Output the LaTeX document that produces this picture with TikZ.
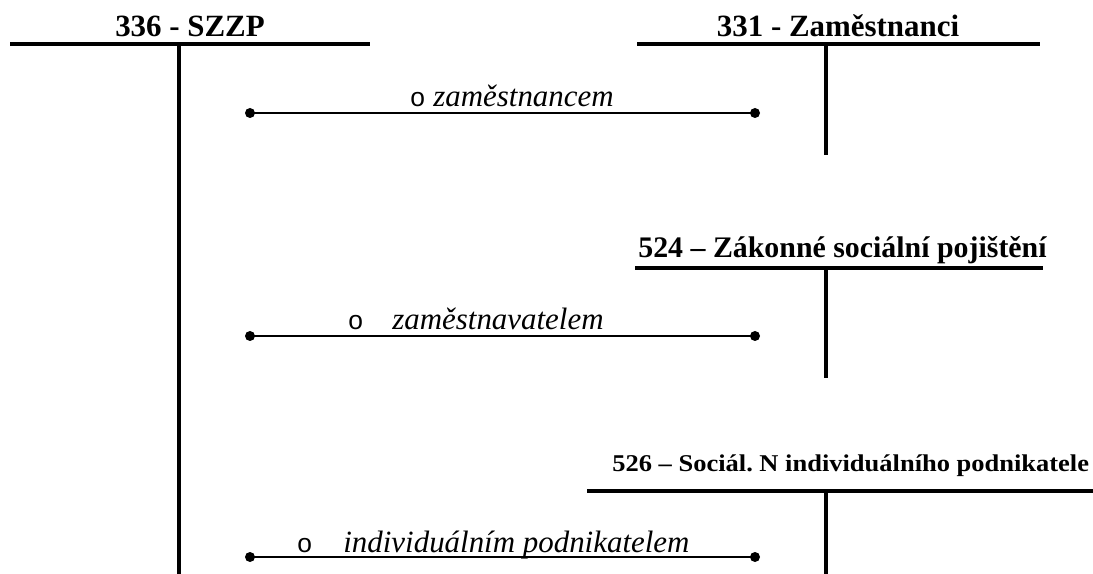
\documentclass[tikz,border=0pt]{standalone}
\usepackage{fontspec}
\setmainfont{Liberation Serif}
\newfontfamily\bulfont{Liberation Sans}

\begin{document}
\begin{tikzpicture}[x=0.02cm,y=-0.02cm,
  acct/.style={line width=2.3pt},
  conn/.style={line width=1.1pt},
  ttl/.style={font=\fontsize{17.6}{20}\selectfont\bfseries,inner sep=0pt},
  lbl/.style={font=\fontsize{17.6}{20}\selectfont\itshape,anchor=base west,inner sep=0pt},
  bul/.style={font=\bulfont\fontsize{15}{18}\selectfont,anchor=base west,inner sep=0pt}]
  \useasboundingbox (0,0) rectangle (1093,574);
  % account 336 - SZZP (left, full height)
  \node[ttl,anchor=base] (szzp) at (190,37) {336 - SZZP};
  \coordinate (szzpL) at (10,44); \coordinate (szzpR) at (370,44);
  \coordinate (szzpT) at (179,44); \coordinate (szzpB) at (179,574);
  \draw[acct] (szzpL) -- (szzpR); \draw[acct] (szzpT) -- (szzpB);
  % account 331 - Zamestnanci
  \node[ttl,anchor=base] (zam) at (838,37) {331 - Zaměstnanci};
  \coordinate (zamL) at (637,44); \coordinate (zamR) at (1040,44);
  \coordinate (zamT) at (826,44); \coordinate (zamB) at (826,155);
  \draw[acct] (zamL) -- (zamR); \draw[acct] (zamT) -- (zamB);
  % account 524
  \node[ttl,anchor=base west,font=\fontsize{17}{20}\selectfont\bfseries] (zsp) at (638,258) {524 – Zákonné sociální pojištění};
  \coordinate (zspL) at (635,268); \coordinate (zspR) at (1043,268);
  \coordinate (zspT) at (826,268); \coordinate (zspB) at (826,378);
  \draw[acct] (zspL) -- (zspR); \draw[acct] (zspT) -- (zspB);
  % account 526
  \node[ttl,anchor=base west,font=\fontsize{13.7}{16}\selectfont\bfseries,xscale=1.1] (snp) at (612,472) {526 – Sociál.\ N individuálního podnikatele};
  \coordinate (snpL) at (587,491); \coordinate (snpR) at (1093,491);
  \coordinate (snpT) at (826,491); \coordinate (snpB) at (826,574);
  \draw[acct] (snpL) -- (snpR); \draw[acct] (snpT) -- (snpB);
  % connectors with end dots
  \foreach \n/\yv in {a/113,b/336,c/557}{
    \coordinate (\n1) at (250,\yv); \coordinate (\n2) at (755,\yv);
    \draw[conn] (\n1) -- (\n2);
    \fill (\n1) circle (5); \fill (\n2) circle (5);}
  \node[bul] (ab) at (410,107) {o};
  \node[lbl] (al) at (433,107) {zaměstnancem};
  \node[bul] (bb) at (348,330) {o};
  \node[lbl] (bl) at (392,330) {zaměstnavatelem};
  \node[bul] (cb) at (297,552) {o};
  \node[lbl] (cl) at (343,552) {individuálním podnikatelem};
\end{tikzpicture}
\end{document}
